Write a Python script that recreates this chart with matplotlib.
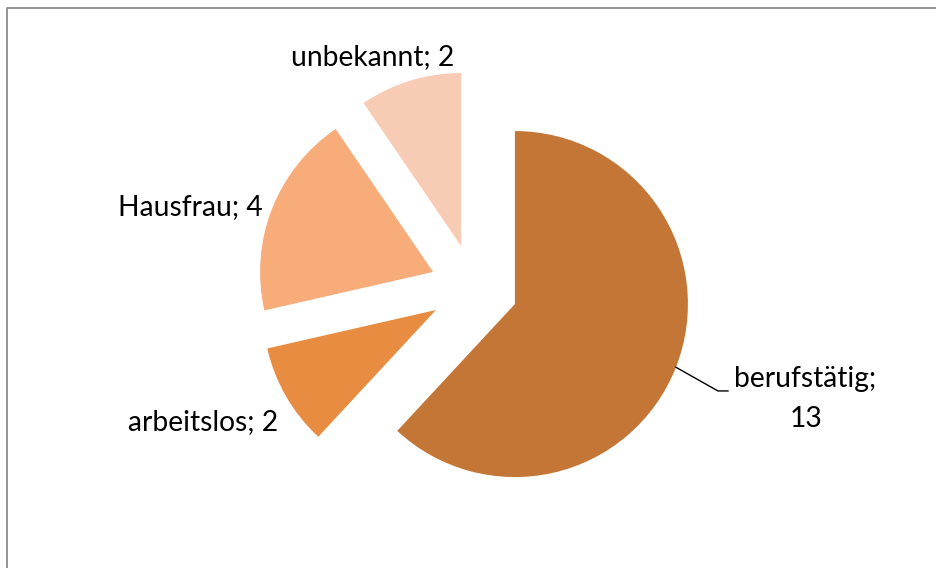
import numpy as np
import matplotlib
matplotlib.use("Agg")
import matplotlib.pyplot as plt
from matplotlib.lines import Line2D

# Data
categories = ["berufstätig", "arbeitslos", "Hausfrau", "unbekannt"]
values = [13, 2, 4, 2]
colors = ["#C47636", "#E88C42", "#F7AC7A", "#F8CBB4"]
explode = [0.254, 0.254, 0.254, 0.254]

# Layout of labels (data coords, pie radius = 1): x, y baseline, ha
label_pos = {
    "unbekannt": (-0.587, 1.289, "center"),
    "Hausfrau": (-1.220, 0.422, "right"),
    "arbeitslos": (-1.566, -0.821, "center"),
}

W, H = 936, 568
fig = plt.figure(figsize=(W / 100, H / 100), dpi=100)
ax = fig.add_axes([0, 0, 1, 1])

wedges, _ = ax.pie(values, colors=colors, explode=explode, startangle=90,
                   counterclock=False, radius=1.0,
                   wedgeprops=dict(linewidth=0))

R_px = 173.0
cx, cy = 474.0, 288.0
ax.set_xlim(-cx / R_px, (W - cx) / R_px)
ax.set_ylim(-(H - cy) / R_px, cy / R_px)
ax.set_aspect("auto")
ax.axis("off")

font = dict(family=["Lato", "DejaVu Sans"], fontsize=20.3, color="#000000")

for name, v in zip(categories, values):
    if name in label_pos:
        x, y, ha = label_pos[name]
        ax.text(x, y, f"{name}; {v}", ha=ha, va="baseline", **font)

# berufstätig label with leader line
total = sum(values)
mid = np.deg2rad(90 - 0.5 * values[0] / total * 360)
ex = explode[0]
p0 = ((1 + ex) * np.cos(mid), (1 + ex) * np.sin(mid))
ax.add_line(Line2D([p0[0], 1.410, 1.468], [p0[1], -0.595, -0.595],
                   color="#000000", lw=1.0))
ax.text(1.913, -0.572, f"{categories[0]};", ha="center", va="baseline", **font)
ax.text(1.919, -0.803, f"{values[0]}", ha="center", va="baseline", **font)

# chart border (extends beyond image on right/bottom)
bx = 7.5 / W
by = 1 - 7.5 / H
fig.add_artist(Line2D([bx, bx, 1.0], [0.0, by, by], transform=fig.transFigure,
                      color="#8C8C8C", lw=1.3))

fig.savefig("out.png", dpi=100)
